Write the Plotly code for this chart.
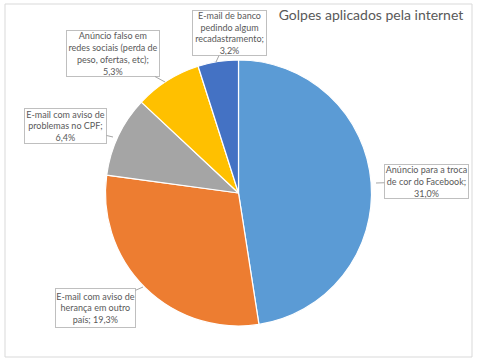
import plotly.graph_objects as go

# ---- data ----
categories = [
    "Anúncio para a troca de cor do Facebook",
    "E-mail com aviso de herança em outro país",
    "E-mail com aviso de problemas no CPF",
    "Anúncio falso em redes sociais (perda de peso, ofertas, etc)",
    "E-mail de banco pedindo algum recadastramento",
]
values = [31.0, 19.3, 6.4, 5.3, 3.2]
# wrapped display names (line breaks as in the reference callouts)
wrapped = [
    "Anúncio para a troca<br>de cor do Facebook",
    "E-mail com aviso de<br>herança em outro<br>país",
    "E-mail com aviso de<br>problemas no CPF",
    "Anúncio falso em<br>redes sociais (perda de<br>peso, ofertas, etc)",
    "E-mail de banco<br>pedindo algum<br>recadastramento",
]
value_sep = ["<br>", " ", "<br>", "<br>", "<br>"]
colors = ["#5B9BD5", "#ED7D31", "#A5A5A5", "#FFC000", "#4472C4"]
title = "Golpes aplicados pela internet"

W, H = 480, 364
FONT = "Lato, Roboto, Arial, sans-serif"
TXT = "#595959"

def px(x):
    return x / W

def py(y):
    return 1 - y / H

# pie geometry (pixels)
cx, cy, r = 238.5, 193, 133

fig = go.Figure(go.Pie(
    labels=categories, values=values, sort=False, direction="clockwise",
    rotation=0, textinfo="none", hoverinfo="label+value",
    marker=dict(colors=colors, line=dict(color="white", width=1.2)),
    domain=dict(x=[px(cx - r), px(cx + r)], y=[py(cy + r), py(cy - r)]),
    showlegend=False,
))

# callout layout: tip point (on slice edge), box center, box size
tips = [(376, 183), (143, 287), (113, 137), (165, 82), (216, 62)]
boxes = [(426.5, 181.5), (95.5, 308), (65.5, 126), (113, 53.5), (229.5, 33)]
sizes = [(85, 35), (81, 40), (83, 36), (94, 47), (75, 46)]

for name, sep, v, (tx, ty), (bx, by), (bw, bh) in zip(wrapped, value_sep, values, tips, boxes, sizes):
    txt = f"{name};{sep}{v:.1f}".replace(".", ",") + "%"
    fig.add_annotation(
        x=px(tx), y=py(ty), xref="paper", yref="paper",
        ax=bx - tx, ay=by - ty, axref="pixel", ayref="pixel",
        text=txt, showarrow=True, arrowhead=0, arrowwidth=1, arrowcolor="#A6A6A6",
        font=dict(family=FONT, size=9, color=TXT), align="center",
        bgcolor="white", bordercolor="#BFBFBF", borderwidth=1, borderpad=0,
        width=bw - 2, height=bh - 2, xanchor="center", yanchor="middle",
    )

fig.add_shape(type="rect", xref="paper", yref="paper",
              x0=px(5), x1=px(472), y0=py(357), y1=py(4),
              line=dict(color="#D9D9D9", width=1), layer="below")

fig.update_layout(
    width=W, height=H, margin=dict(l=0, r=0, t=0, b=0),
    paper_bgcolor="white", plot_bgcolor="white",
    title=dict(text=title, x=px(371), xanchor="center", y=py(15), yanchor="middle",
               font=dict(family=FONT, size=14, color=TXT)),
)

fig.write_html("out.html", config={"displayModeBar": False},
               post_script="document.body.style.margin='0';document.body.style.overflow='hidden';")
